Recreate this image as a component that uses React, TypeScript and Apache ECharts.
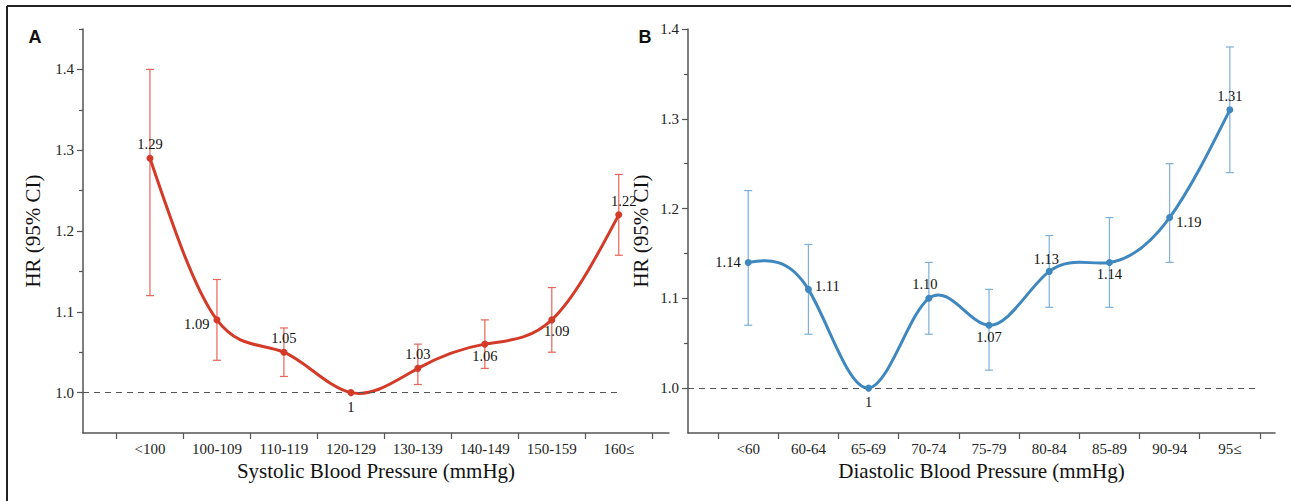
import React, { useEffect, useRef } from "react";
import * as echarts from "echarts";

const sbpCats = ["<100", "100-109", "110-119", "120-129", "130-139", "140-149", "150-159", "160≤"];
const sbpHR = [1.29, 1.09, 1.05, 1.0, 1.03, 1.06, 1.09, 1.22];
const sbpLow = [1.12, 1.04, 1.02, 1.0, 1.01, 1.03, 1.05, 1.17];
const sbpHigh = [1.4, 1.14, 1.08, 1.0, 1.06, 1.09, 1.13, 1.27];
const sbpText = ["1.29", "1.09", "1.05", "1", "1.03", "1.06", "1.09", "1.22"];

const dbpCats = ["<60", "60-64", "65-69", "70-74", "75-79", "80-84", "85-89", "90-94", "95≤"];
const dbpHR = [1.14, 1.11, 1.0, 1.1, 1.07, 1.13, 1.14, 1.19, 1.31];
const dbpLow = [1.07, 1.06, 1.0, 1.06, 1.02, 1.09, 1.09, 1.14, 1.24];
const dbpHigh = [1.22, 1.16, 1.0, 1.14, 1.11, 1.17, 1.19, 1.25, 1.38];
const dbpText = ["1.14", "1.11", "1", "1.10", "1.07", "1.13", "1.14", "1.19", "1.31"];

const sbpMajorTicks = [1.0, 1.1, 1.2, 1.3, 1.4];
const sbpMinorTicks = [1.05, 1.15, 1.25, 1.35, 1.45];
const dbpMajorTicks = [1.0, 1.1, 1.2, 1.3, 1.4];
const dbpMinorTicks = [1.05, 1.15, 1.25, 1.35];

// label placement (style, not data)
const sbpLabelPos: any[] = [
  { position: "top", distance: 3 },
  { position: "left", distance: 4, offset: [0, 4] },
  { position: "top", distance: 3 },
  { position: "bottom", distance: 3 },
  { position: "top", distance: 3 },
  { position: "bottom", distance: 1 },
  { position: "bottom", distance: 0, offset: [5, 0] },
  { position: "top", distance: 3, offset: [5, 0] },
];
const dbpLabelPos: any[] = [
  { position: "left", distance: 4 },
  { position: "right", distance: 3, offset: [0, -3] },
  { position: "bottom", distance: 3 },
  { position: "top", distance: 3, offset: [-4, 0] },
  { position: "bottom", distance: 1 },
  { position: "top", distance: 1, offset: [-3, 0] },
  { position: "bottom", distance: 1 },
  { position: "right", distance: 3, offset: [0, 4] },
  { position: "top", distance: 3 },
];

const SERIF = "Liberation Serif";
const RED = "#d43a28";
const RED_LIGHT = "#e8645a";
const BLUE = "#3f87bf";
const BLUE_LIGHT = "#7cb0da";
const AXIS = "#555";

// natural cubic spline second derivatives (uniform spacing of 1)
function naturalM(y: number[]): number[] {
  const n = y.length;
  const M = new Array(n).fill(0);
  if (n < 3) return M;
  const m = n - 2;
  const a: number[] = [], b: number[] = [], c: number[] = [], d: number[] = [];
  for (let k = 0; k < m; k++) {
    const i = k + 1;
    a.push(1);
    b.push(4);
    c.push(1);
    d.push(6 * (y[i + 1] - 2 * y[i] + y[i - 1]));
  }
  for (let k = 1; k < m; k++) {
    const w = a[k] / b[k - 1];
    b[k] -= w * c[k - 1];
    d[k] -= w * d[k - 1];
  }
  const sol = new Array(m).fill(0);
  sol[m - 1] = d[m - 1] / b[m - 1];
  for (let k = m - 2; k >= 0; k--) sol[k] = (d[k] - c[k] * sol[k + 1]) / b[k];
  for (let k = 0; k < m; k++) M[k + 1] = sol[k];
  return M;
}

function curveSeries(xi: number, yi: number, vals: number[], color: string) {
  const M = naturalM(vals);
  return {
    type: "custom",
    xAxisIndex: xi,
    yAxisIndex: yi,
    z: 4,
    silent: true,
    encode: { x: 0, y: 1 },
    data: vals.map((v, i) => [i, v]),
    renderItem: (params: any, api: any) => {
      if (params.dataIndex !== 0) return null;
      const children: any[] = [];
      for (let i = 0; i < vals.length - 1; i++) {
        const y0 = vals[i], y1 = vals[i + 1];
        const s = y1 - y0;
        const d0 = s - (2 * M[i] + M[i + 1]) / 6;
        const d1 = s + (M[i] + 2 * M[i + 1]) / 6;
        const p0 = api.coord([i, y0]);
        const p1 = api.coord([i + 1, y1]);
        const c1 = api.coord([i + 1 / 3, y0 + d0 / 3]);
        const c2 = api.coord([i + 2 / 3, y1 - d1 / 3]);
        children.push({
          type: "bezierCurve",
          shape: { x1: p0[0], y1: p0[1], x2: p1[0], y2: p1[1], cpx1: c1[0], cpy1: c1[1], cpx2: c2[0], cpy2: c2[1] },
          style: { stroke: color, lineWidth: 3, fill: null, lineCap: "round" },
        });
      }
      return { type: "group", children };
    },
  };
}

function errorRender(color: string) {
  return (params: any, api: any) => {
    const x = api.value(0);
    const lo = api.coord([x, api.value(1)]);
    const hi = api.coord([x, api.value(2)]);
    const w = 4;
    const st = { stroke: color, lineWidth: 1.2 };
    return {
      type: "group",
      children: [
        { type: "line", shape: { x1: lo[0], y1: lo[1], x2: hi[0], y2: hi[1] }, style: st },
        { type: "line", shape: { x1: hi[0] - w, y1: hi[1], x2: hi[0] + w, y2: hi[1] }, style: st },
        { type: "line", shape: { x1: lo[0] - w, y1: lo[1], x2: lo[0] + w, y2: lo[1] }, style: st },
      ],
    };
  };
}

function xAxisFor(gridIndex: number, cats: string[], title: string) {
  const n = cats.length;
  return {
    type: "value",
    gridIndex,
    min: -1,
    max: n - 0.25,
    splitLine: { show: false },
    axisLine: { show: true, onZero: false, lineStyle: { color: AXIS, width: 1.5 } },
    axisTick: {
      show: true,
      length: 6,
      lineStyle: { color: AXIS, width: 1.2 },
      customValues: cats.map((_, i) => i - 0.5).concat([n - 0.5]),
    },
    axisLabel: {
      customValues: cats.map((_, i) => i),
      formatter: (v: number) => cats[Math.round(v)] ?? "",
      fontFamily: SERIF,
      fontSize: 15,
      color: "#222",
      margin: 8,
    },
    name: title,
    nameLocation: "middle",
    nameGap: 27,
    nameTextStyle: { fontFamily: SERIF, fontSize: 21, color: "#111" },
  };
}

function yAxesFor(gridIndex: number, max: number, major: number[], minor: number[], gap: number) {
  return [
    {
      type: "value",
      gridIndex,
      min: 0.95,
      max,
      splitLine: { show: false },
      axisLine: { show: true, onZero: false, lineStyle: { color: AXIS, width: 1.5 } },
      axisTick: { show: true, length: 6, lineStyle: { color: AXIS, width: 1.2 }, customValues: major },
      axisLabel: {
        customValues: major,
        formatter: (v: number) => v.toFixed(1),
        fontFamily: SERIF,
        fontSize: 15,
        color: "#222",
        margin: 9,
      },
      name: "HR (95% CI)",
      nameLocation: "middle",
      nameGap: gap,
      nameTextStyle: { fontFamily: SERIF, fontSize: 21, color: "#111" },
    },
    {
      type: "value",
      gridIndex,
      position: "left",
      min: 0.95,
      max,
      splitLine: { show: false },
      axisLine: { show: false, onZero: false },
      axisTick: { show: true, length: 4, lineStyle: { color: AXIS, width: 1.2 }, customValues: minor },
      axisLabel: { show: false },
    },
  ];
}

function pointSeries(
  xi: number,
  yi: number,
  vals: number[],
  texts: string[],
  pos: any[],
  color: string,
  refEnd: number
) {
  return {
    type: "line",
    xAxisIndex: xi,
    yAxisIndex: yi,
    z: 5,
    symbol: "circle",
    symbolSize: 7,
    showAllSymbol: true,
    itemStyle: { color },
    lineStyle: { color, width: 0, opacity: 0 },
    data: vals.map((v, i) => ({
      value: [i, v],
      label: { show: true, ...pos[i] },
    })),
    label: {
      show: true,
      fontFamily: SERIF,
      fontSize: 14.5,
      color: "#111",
      formatter: (p: any) => texts[p.dataIndex],
    },
    markLine: {
      silent: true,
      symbol: "none",
      label: { show: false },
      lineStyle: { color: "#555", type: [6, 5], width: 1.2, opacity: 1 },
      data: [[{ coord: [-1, 1] }, { coord: [refEnd, 1] }]],
    },
  };
}

function errSeries(xi: number, yi: number, lo: number[], hi: number[], color: string) {
  const data: number[][] = [];
  lo.forEach((l, i) => {
    if (l !== hi[i]) data.push([i, l, hi[i]]);
  });
  return {
    type: "custom",
    xAxisIndex: xi,
    yAxisIndex: yi,
    z: 3,
    renderItem: errorRender(color),
    encode: { x: 0, y: [1, 2] },
    data,
  };
}

export default function App() {
  const ref = useRef<HTMLDivElement>(null);
  useEffect(() => {
    if (!ref.current) return;
    const chart = echarts.init(ref.current, undefined, { renderer: "svg" });
    const option: any = {
      animation: false,
      backgroundColor: "#fff",
      grid: [
        { left: 83, top: 29, width: 586, height: 404, containLabel: false },
        { left: 688, top: 29, width: 587, height: 404, containLabel: false },
      ],
      xAxis: [
        xAxisFor(0, sbpCats, "Systolic Blood Pressure (mmHg)"),
        xAxisFor(1, dbpCats, "Diastolic Blood Pressure (mmHg)"),
      ],
      yAxis: [
        ...yAxesFor(0, 1.45, sbpMajorTicks, sbpMinorTicks, 40),
        ...yAxesFor(1, 1.4, dbpMajorTicks, dbpMinorTicks, 37),
      ],
      series: [
        errSeries(0, 0, sbpLow, sbpHigh, RED_LIGHT),
        curveSeries(0, 0, sbpHR, RED),
        pointSeries(0, 0, sbpHR, sbpText, sbpLabelPos, RED, 7.03),
        errSeries(1, 2, dbpLow, dbpHigh, BLUE_LIGHT),
        curveSeries(1, 2, dbpHR, BLUE),
        pointSeries(1, 2, dbpHR, dbpText, dbpLabelPos, BLUE, 8.5),
      ],
      graphic: [
        { type: "line", shape: { x1: 7, y1: 6, x2: 1291, y2: 6 }, style: { stroke: "#222", lineWidth: 2 } },
        { type: "line", shape: { x1: 7, y1: 6, x2: 7, y2: 501 }, style: { stroke: "#222", lineWidth: 2 } },
        {
          type: "text",
          x: 35,
          y: 37,
          style: {
            text: "A",
            font: "bold 18px 'Liberation Sans', Arial, sans-serif",
            fill: "#111",
            align: "center",
            verticalAlign: "middle",
          },
        },
        {
          type: "text",
          x: 645,
          y: 37,
          style: {
            text: "B",
            font: "bold 18px 'Liberation Sans', Arial, sans-serif",
            fill: "#111",
            align: "center",
            verticalAlign: "middle",
          },
        },
      ],
    };
    chart.setOption(option);
    return () => chart.dispose();
  }, []);
  return (
    <div
      ref={ref}
      style={{ position: "fixed", left: 0, top: 0, width: 1291, height: 501, background: "#fff" }}
    />
  );
}
